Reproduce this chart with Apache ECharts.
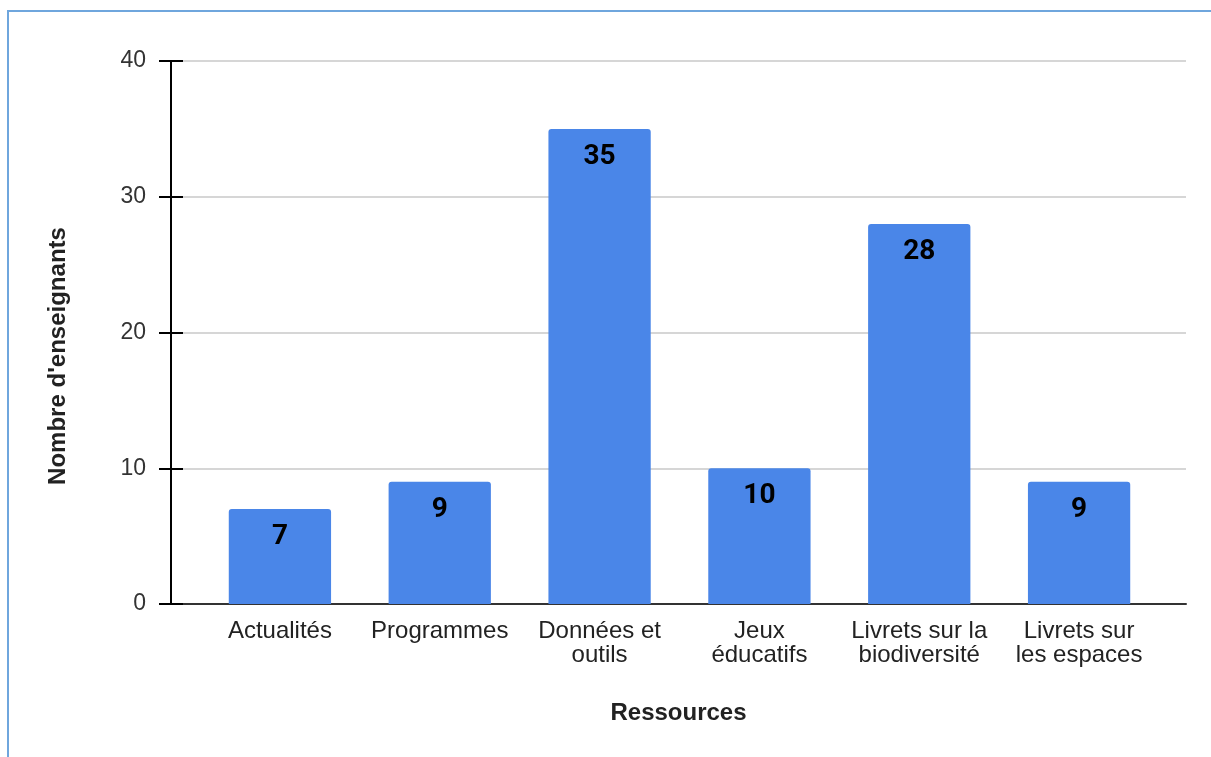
<!DOCTYPE html>
<html>
<head>
<meta charset="utf-8">
<script src="https://cdn.jsdelivr.net/npm/echarts@6/dist/echarts.min.js"></script>
<style>
  html, body { margin: 0; padding: 0; background: #fff; }
  #frame { position: absolute; left: 7px; top: 10px; width: 1300px; height: 900px;
           border-top: 2px solid #6fa6dd; border-left: 2px solid #6fa6dd; }
  #chart { position: absolute; left: 0; top: 0; width: 1211px; height: 757px; }
</style>
</head>
<body>
<div id="frame"></div>
<div id="chart"></div>
<script>
const categories = ['Actualités', 'Programmes', 'Données et\noutils', 'Jeux\néducatifs', 'Livrets sur la\nbiodiversité', 'Livrets sur\nles espaces'];
const values = [7, 9, 35, 10, 28, 9];
const yTicks = { min: 0, max: 40, interval: 10 };
const xTitle = 'Ressources';
const yTitle = "Nombre d'enseignants";

const chart = echarts.init(document.getElementById('chart'), null, { renderer: 'canvas' });
const labelFont = '"Liberation Sans", Arial, sans-serif';
chart.setOption({
  animation: false,
  grid: [
    { left: 171, right: 25, top: 61, bottom: 153 },
    { left: 200, right: 52, top: 61, bottom: 153 }
  ],
  xAxis: [
    { gridIndex: 0, type: 'value', min: 0, max: 1,
      axisLine: { show: true, lineStyle: { color: '#333', width: 2 } },
      axisTick: { show: false }, axisLabel: { show: false }, splitLine: { show: false },
      name: xTitle, nameLocation: 'middle', nameGap: 97,
      nameTextStyle: { fontFamily: labelFont, fontSize: 24, fontWeight: 'bold', color: '#222' } },
    { gridIndex: 1, type: 'category', data: categories,
      axisLine: { show: false }, axisTick: { show: false },
      axisLabel: { margin: 15, fontFamily: labelFont, fontSize: 24, lineHeight: 24, color: '#222', interval: 0 } }
  ],
  yAxis: [
    { gridIndex: 0, type: 'value', min: yTicks.min, max: yTicks.max, interval: yTicks.interval,
      axisLine: { show: true, onZero: false, lineStyle: { color: '#000', width: 2 } },
      axisTick: { show: true, length: 12, lineStyle: { color: '#000', width: 2 } },
      axisLabel: { margin: 25, fontFamily: labelFont, fontSize: 23, color: '#333' },
      splitLine: { show: true, lineStyle: { color: '#d6d6d6', width: 2 } } },
    { gridIndex: 0, type: 'value', min: yTicks.min, max: yTicks.max, interval: yTicks.interval,
      axisLine: { show: false },
      axisTick: { show: true, inside: true, length: 12, lineStyle: { color: '#000', width: 2 } },
      axisLabel: { show: false }, splitLine: { show: false }, position: 'left' },
    { gridIndex: 1, type: 'value', min: yTicks.min, max: yTicks.max, show: false }
  ],
  graphic: [
    { type: 'text', x: 58, y: 356, rotation: Math.PI / 2,
      style: { text: yTitle, fontFamily: labelFont, fontSize: 24, fontWeight: 'bold', fill: '#222',
               align: 'center', verticalAlign: 'middle' } }
  ],
  series: [{
    type: 'bar', xAxisIndex: 1, yAxisIndex: 2, data: values,
    barCategoryGap: '36%',
    itemStyle: { color: '#4a86e8', borderRadius: [3, 3, 0, 0] },
    label: { show: true, position: 'insideTop', distance: 14,
             fontFamily: 'Roboto, sans-serif', fontWeight: 'bold', fontSize: 28, color: '#000' },
    z: 3
  }]
});
</script>
</body>
</html>
